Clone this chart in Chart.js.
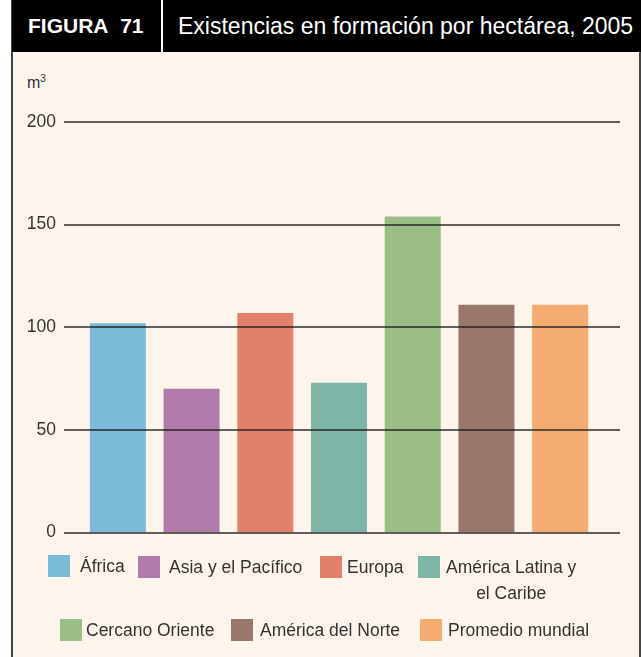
<!DOCTYPE html>
<html>
<head>
<meta charset="utf-8">
<script src="https://cdn.jsdelivr.net/npm/chart.js@4.4.0/dist/chart.umd.min.js"></script>
<style>
  html, body { margin: 0; padding: 0; background: #fff; }
  body { width: 641px; height: 657px; position: relative; overflow: hidden; font-family: "Liberation Sans", Arial, sans-serif; }
  .box { position: absolute; left: 11px; top: 0; width: 626px; height: 657px; background: #fdf5ec;
         border-left: 2px solid #444; border-right: 2px solid #444; }
  .head { position: absolute; left: 12px; top: 0; width: 629px; height: 52px; background: #000; color: #fff; }
  .head .fig { position: absolute; left: 16px; top: 13px; font-size: 21px; line-height: 26px; font-weight: bold; }
  .head .sep { position: absolute; left: 149px; top: 0; width: 2px; height: 52px; background: #fff; }
  .head .ttl { position: absolute; left: 166px; top: 12px; font-size: 23px; line-height: 28px; }
  .unit { position: absolute; left: 27px; top: 73px; font-size: 16px; color: #333; }
  .unit sup { font-size: 10px; }
  #myChart { position: absolute; left: 12px; top: 52px; }
  .legend { position: absolute; left: 0; top: 0; width: 641px; font-size: 17.5px; color: #333; }
  .sw { position: absolute; width: 22px; height: 22px; }
  .lb { position: absolute; line-height: 26px; text-align: center; white-space: nowrap; }
</style>
</head>
<body>
<div class="box"></div>
<div class="head">
  <div class="fig">FIGURA&nbsp; 71</div>
  <div class="sep"></div>
  <div class="ttl">Existencias en formación por hectárea, 2005</div>
</div>
<div class="unit">m<sup>3</sup></div>
<canvas id="myChart" width="628" height="508"></canvas>
<div class="legend" id="legend"></div>
<script>
// datos (m3 por hectárea)
const regions = ['África', 'Asia y el Pacífico', 'Europa', 'América Latina y\nel Caribe',
  'Cercano Oriente', 'América del Norte', 'Promedio mundial'];
const stock = [102, 70, 107, 73, 154, 111, 111];
const colors = ['#7bbad9', '#b17bab', '#e3806b', '#7db5a6', '#9bbe87', '#97786a', '#f4ac70'];
const yTicks = [0, 50, 100, 150, 200];

// maquetación de la leyenda: [x cuadro, x texto, y cuadro]
const legendPos = [[48, 80, 555], [138, 169, 556], [320, 347, 556], [418, 446, 556],
  [60, 86, 619], [231, 260, 619], [420, 448, 619]];

const legend = document.getElementById('legend');
regions.forEach((r, i) => {
  const sw = document.createElement('div');
  sw.className = 'sw';
  sw.style.left = legendPos[i][0] + 'px';
  sw.style.top = legendPos[i][2] + 'px';
  sw.style.background = colors[i];
  const lb = document.createElement('div');
  lb.className = 'lb';
  lb.style.left = legendPos[i][1] + 'px';
  lb.style.top = (legendPos[i][2] - 2) + 'px';
  lb.innerHTML = r.replace('\n', '<br>');
  legend.appendChild(sw);
  legend.appendChild(lb);
});

// lineas horizontales por encima de las barras
const gridOver = {
  id: 'gridOver',
  afterDatasetsDraw(chart) {
    const ctx = chart.ctx;
    const y = chart.scales.y;
    ctx.save();
    ctx.strokeStyle = 'rgba(30,30,30,0.7)';
    ctx.lineWidth = 2;
    yTicks.forEach(v => {
      const py = Math.round(y.getPixelForValue(v));
      ctx.beginPath();
      ctx.moveTo(52, py);
      ctx.lineTo(608, py);
      ctx.stroke();
    });
    ctx.restore();
  }
};

new Chart(document.getElementById('myChart').getContext('2d'), {
  type: 'bar',
  data: {
    labels: regions,
    datasets: [{
      data: stock,
      backgroundColor: colors,
      borderWidth: 0,
      categoryPercentage: 1,
      barPercentage: 0.76
    }]
  },
  options: {
    responsive: false,
    animation: false,
    // el eje y añade (padding + media etiqueta) abajo, ~27px
    layout: { padding: { top: 70, bottom: 4, left: 0, right: 43 } },
    plugins: { legend: { display: false }, tooltip: { enabled: false } },
    scales: {
      x: { display: false },
      y: {
        min: 0, max: 200,
        afterFit(s) { s.width = 69; },
        afterBuildTicks(s) { s.ticks = yTicks.map(v => ({ value: v })); },
        grid: { display: false },
        border: { display: false },
        ticks: { padding: 17, color: '#333', font: { family: 'Liberation Sans', size: 17.5 } }
      }
    }
  },
  plugins: [gridOver]
});
</script>
</body>
</html>
